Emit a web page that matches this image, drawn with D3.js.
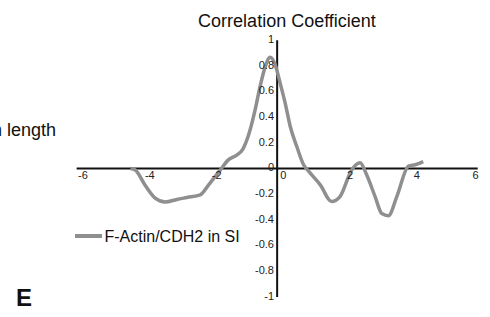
<!DOCTYPE html>
<html><head><meta charset="utf-8">
<script src="https://cdn.jsdelivr.net/npm/d3@7"></script>
<style>body{margin:0;background:#fff;font-family:"Liberation Sans",Arial,sans-serif;}</style>
</head><body><svg id="c" width="490" height="317"></svg>
<script>
const lagX = [-4.39,-4.25,-3.95,-3.65,-3.35,-3.0,-2.7,-2.3,-2.05,-1.70,-1.46,-1.2,-1.03,-0.81,-0.66,-0.51,-0.36,-0.21,-0.06,0.09,0.24,0.39,0.59,0.79,0.94,1.29,1.63,1.88,2.23,2.48,2.68,2.93,3.13,3.33,3.58,3.93,4.13,4.37];
const corr = [0,-0.01,-0.13,-0.23,-0.26,-0.24,-0.225,-0.205,-0.127,-0.01,0.068,0.107,0.15,0.30,0.457,0.64,0.79,0.867,0.81,0.665,0.51,0.33,0.17,0.03,-0.02,-0.127,-0.257,-0.218,-0.01,0.045,-0.05,-0.218,-0.35,-0.367,-0.218,0.02,0.03,0.055];
const xTicks = [-6,-4,-2,0,2,4,6];
const yTicks = [-1,-0.8,-0.6,-0.4,-0.2,0,0.2,0.4,0.6,0.8,1];
const seriesName = "F-Actin/CDH2 in SI";
const titleText = "Correlation Coefficient";

const svg = d3.select("#c");
const x = d3.scaleLinear().domain([-6,6]).range([76.6,477.7]);
const y = d3.scaleLinear().domain([-1,1]).range([297,40.2]);
const data = lagX.map((v,i)=>({x:v,y:corr[i]}));

// axes lines
svg.append("line").attr("x1",x(-6)).attr("x2",x(6)).attr("y1",y(0)).attr("y2",y(0)).attr("stroke","#111").attr("stroke-width",2);
svg.append("line").attr("x1",x(0)).attr("x2",x(0)).attr("y1",y(1)).attr("y2",y(-1)).attr("stroke","#111").attr("stroke-width",2);

// series line
svg.append("path").datum(data)
  .attr("d", d3.line().x(d=>x(d.x)).y(d=>y(d.y)).curve(d3.curveMonotoneX))
  .attr("fill","none").attr("stroke","#8f8f8f").attr("stroke-width",3.5).attr("stroke-linejoin","round");

// x tick labels
xTicks.forEach(t=>{
  const tx = svg.append("text").text(String(t)).attr("font-size",11).attr("fill","#222")
    .attr("y", y(0)+10).attr("x", x(t) + (t<0?1.5:3));
  const w = tx.node().getComputedTextLength();
  if (x(t) + 3 + w > 478.5) tx.attr("x", 478.5 - w);
});
// y tick labels
yTicks.forEach(t=>{
  svg.append("text").text(String(t)).attr("font-size",11).attr("fill","#222")
    .attr("text-anchor","end").attr("x", 274).attr("y", y(t)+2.7);
});

// title
svg.append("text").text(titleText).attr("x",287).attr("y",26.5).attr("text-anchor","middle").attr("font-size",18).attr("fill","#111");
// cut-off label from neighbouring panel (cropped in the reference too)
svg.append("text").text("n length").attr("x",56).attr("y",136).attr("text-anchor","end").attr("font-size",18).attr("fill","#111");
// legend
svg.append("line").attr("x1",75).attr("x2",102).attr("y1",236).attr("y2",236).attr("stroke","#8f8f8f").attr("stroke-width",4);
svg.append("text").text(seriesName).attr("x",104.5).attr("y",241.5).attr("font-size",16).attr("fill","#111");
// panel letter
svg.append("text").text("E").attr("x",16).attr("y",306).attr("font-size",24).attr("font-weight","bold").attr("fill","#111");
</script></body></html>
